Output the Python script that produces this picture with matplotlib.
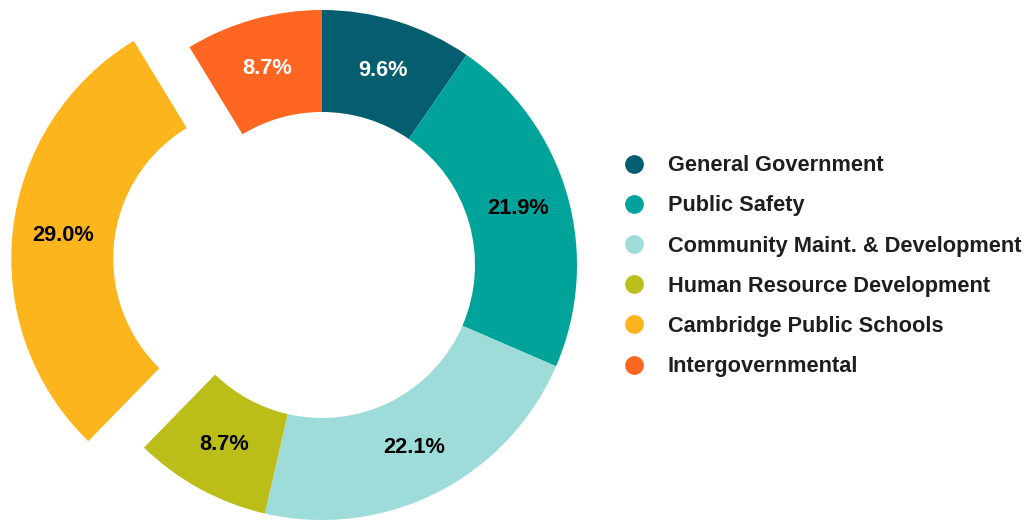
import matplotlib
matplotlib.use("Agg")
import matplotlib.pyplot as plt
from matplotlib.lines import Line2D

plt.rcParams['font.family'] = ['Liberation Sans', 'DejaVu Sans']

# ---- data ----
categories = [
    "General Government",
    "Public Safety",
    "Community Maint. & Development",
    "Human Resource Development",
    "Cambridge Public Schools",
    "Intergovernmental",
]
shares = [9.6, 21.9, 22.1, 8.7, 29.0, 8.7]
colors = ["#045E6F", "#00A39A", "#9EDCDA", "#BBBE19", "#FDB51E", "#FF6621"]
label_colors = ["white", "black", "black", "black", "black", "white"]
explode = [0, 0, 0, 0, 0.22, 0]

fig = plt.figure(figsize=(10.27, 5.25), dpi=100)
ax = fig.add_axes([0, 0, 1, 1])

wedges, texts, autotexts = ax.pie(
    shares, colors=colors, explode=explode, startangle=90, counterclock=False,
    autopct="%.1f%%", pctdistance=0.8,
    wedgeprops=dict(width=0.4, linewidth=0),
    textprops=dict(fontsize=15.7, fontweight="bold"),
)
for t, c in zip(autotexts, label_colors):
    t.set_color(c)

# put the donut centre at (322, 265) px with radius 255 px
r_px = 255.0
cx, cy = 322.0, 265.0
ax.set_xlim(-cx / r_px, (1027 - cx) / r_px)
ax.set_ylim(-(525 - cy) / r_px, cy / r_px)
ax.set_aspect("equal")
ax.axis("off")

handles = [Line2D([0], [0], marker="o", linestyle="", markersize=13.5,
                  markerfacecolor=c, markeredgewidth=0) for c in colors]
leg = fig.legend(handles, categories, loc="center left",
                 bbox_to_anchor=(0.6066, 0.493), frameon=False,
                 borderpad=0, borderaxespad=0, handlelength=1.0,
                 handletextpad=1.05, labelspacing=0.88,
                 prop=dict(size=15.7, weight="bold"))
for t in leg.get_texts():
    t.set_color("#1e1e1e")

fig.savefig("out.png", dpi=100, facecolor="white")
